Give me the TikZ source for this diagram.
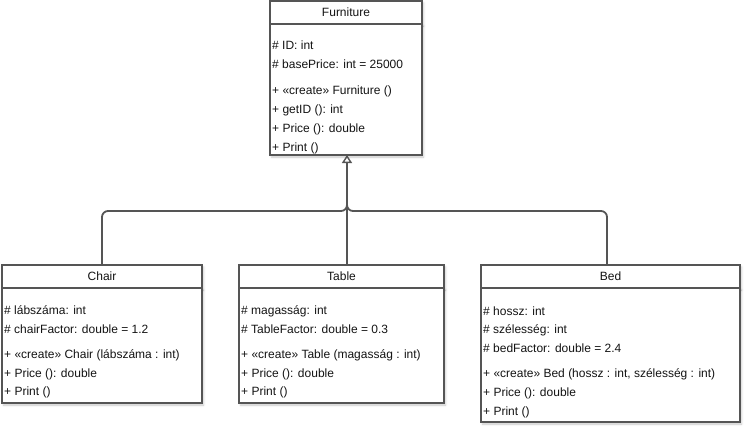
\documentclass[tikz,border=0pt]{standalone}
\usepackage{fontspec}
\setmainfont{Liberation Sans}
\usetikzlibrary{arrows.meta,shadows.blur}
\definecolor{edge}{HTML}{555555}
\definecolor{ink}{HTML}{141414}
\begin{document}
\begin{tikzpicture}[x=1pt,y=-1pt,
  box/.style={draw=edge, line width=1.5pt, fill=white, anchor=north west,
    inner sep=0pt, outer sep=0pt,
    blur shadow={shadow xshift=1.5pt, shadow yshift=-2pt, shadow blur steps=4, shadow opacity=22}},
  member/.style={anchor=base west, inner sep=0pt, text=ink, font=\fontsize{12}{14}\selectfont},
  title/.style={inner sep=0pt, text=ink, font=\fontsize{12}{14}\selectfont},
  link/.style={draw=edge, line width=1.8pt, rounded corners=6pt},
  gen/.style={link, -{Triangle[open, length=8pt, width=10pt, line width=1.4pt]}}]
\useasboundingbox (0,0) rectangle (751,432);

% Furniture
\node[box, minimum width=152pt, minimum height=23pt] (furnhead) at (270,1) {};
\node[box, minimum width=152pt, minimum height=131pt] (furnbody) at (270,24) {};
\node[title] at (furnhead.center) {Furniture};
\node[member] at (272,49.3) {\# ID: int};
\node[member] at (272,68.3) {\# basePrice: int = 25000};
\node[member] at (272,94.3) {+ «create» Furniture ()};
\node[member] at (272,113.3) {+ getID (): int};
\node[member] at (272,132.3) {+ Price (): double};
\node[member] at (272,151.3) {+ Print ()};

% Chair
\node[box, minimum width=200pt, minimum height=23pt] (chairhead) at (2,265) {};
\node[box, minimum width=200pt, minimum height=115pt] (chairbody) at (2,288) {};
\node[title] at (chairhead.center) {Chair};
\node[member] at (4,314.3) {\# lábszáma: int};
\node[member] at (4,333.3) {\# chairFactor: double = 1.2};
\node[member] at (4,358.3) {+ «create» Chair (lábszáma : int)};
\node[member] at (4,377.3) {+ Price (): double};
\node[member] at (4,395.3) {+ Print ()};

% Table
\node[box, minimum width=205pt, minimum height=23pt] (tablehead) at (239,265) {};
\node[box, minimum width=205pt, minimum height=115pt] (tablebody) at (239,288) {};
\node[title] at (tablehead.center) {Table};
\node[member] at (241,314.3) {\# magasság: int};
\node[member] at (241,333.3) {\# TableFactor: double = 0.3};
\node[member] at (241,358.3) {+ «create» Table (magasság : int)};
\node[member] at (241,377.3) {+ Price (): double};
\node[member] at (241,395.3) {+ Print ()};

% Bed
\node[box, minimum width=259pt, minimum height=23pt] (bedhead) at (481,265) {};
\node[box, minimum width=259pt, minimum height=134pt] (bedbody) at (481,288) {};
\node[title] at (bedhead.center) {Bed};
\node[member] at (483,315.3) {\# hossz: int};
\node[member] at (483,333.3) {\# szélesség: int};
\node[member] at (483,352.3) {\# bedFactor: double = 2.4};
\node[member] at (483,377.3) {+ «create» Bed (hossz : int, szélesség : int)};
\node[member] at (483,396.3) {+ Price (): double};
\node[member] at (483,415.3) {+ Print ()};

% Generalisation connectors
\coordinate (join) at (347,211);
\coordinate (up) at (347,190);
\draw[link] (chairhead.north -| 102,0) |- (join) -- (up);
\draw[link] (bedhead.north -| 607,0) |- (join) -- (up);
\draw[gen] (tablehead.north -| join) -- (furnbody.south -| join);
\end{tikzpicture}
\end{document}
